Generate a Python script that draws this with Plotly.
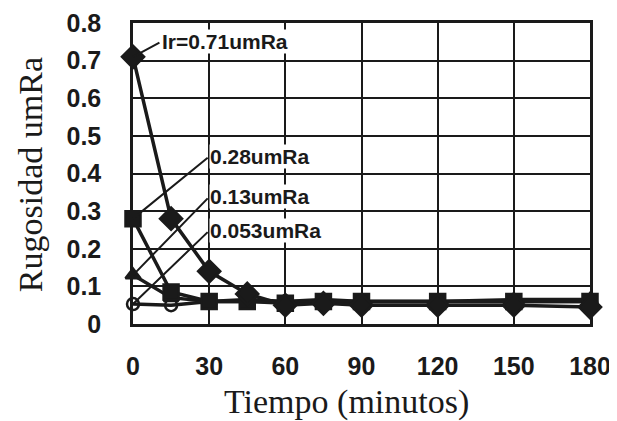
import plotly.graph_objects as go

tiempo = [0, 15, 30, 45, 60, 75, 90, 120, 150, 180]

rug_071 = [0.71, 0.28, 0.14, 0.08, 0.05, 0.055, 0.05, 0.05, 0.05, 0.045]
rug_028 = [0.28, 0.085, 0.06, 0.06, 0.055, 0.06, 0.06, 0.06, 0.06, 0.06]
rug_013 = [0.13, 0.07, 0.06, 0.065, 0.06, 0.065, 0.06, 0.06, 0.065, 0.065]
rug_0053 = [0.053, 0.05, 0.06, 0.06, 0.06, 0.06, 0.06, 0.06, 0.06, 0.06]

etiquetas = ["Ir=0.71umRa", "0.28umRa", "0.13umRa", "0.053umRa"]
valores_ini = [0.71, 0.28, 0.13, 0.053]
pos_etiqueta = [(11, 0.75), (30, 0.445), (30, 0.338), (30, 0.248)]

x_ticks = [0, 30, 60, 90, 120, 150, 180]
y_ticks = [0, 0.1, 0.2, 0.3, 0.4, 0.5, 0.6, 0.7, 0.8]

negro = "#1a1a1a"
fuenteTick = dict(family="Liberation Sans", size=25, color=negro, weight="bold")
fuenteEje = dict(family="Liberation Serif", size=34, color=negro)
fuenteEtiq = dict(family="Liberation Sans", size=21, color=negro, weight="bold")

fig = go.Figure()

series = [
    (rug_0053, "circle-open", 12),
    (rug_013, "triangle-up", 13),
    (rug_028, "square", 15),
    (rug_071, "diamond", 17),
]
for ys, simbolo, tam in series:
    fig.add_trace(go.Scatter(
        x=tiempo, y=ys, mode="lines+markers",
        line=dict(color=negro, width=3.5),
        marker=dict(symbol=simbolo, size=tam, color=negro,
                    line=dict(color=negro, width=2.5)),
        cliponaxis=False, showlegend=False))

for txt, v0, (px, py) in zip(etiquetas, valores_ini, pos_etiqueta):
    fig.add_annotation(
        x=0, y=v0, ax=px, ay=py, axref="x", ayref="y",
        showarrow=True, arrowhead=0, arrowwidth=2, arrowcolor=negro,
        standoff=0, startstandoff=0, text="")
    fig.add_annotation(
        x=px, y=py, text=txt, showarrow=False, xanchor="left",
        yanchor="middle", font=fuenteEtiq, bgcolor="white", borderpad=0)

# titulos de ejes como anotaciones
fig.add_annotation(text="Tiempo (minutos)", xref="paper", yref="paper",
                   x=0.468, y=-0.258, xanchor="center", yanchor="middle",
                   showarrow=False, font=fuenteEje)
fig.add_annotation(text="Rugosidad umRa", xref="paper", yref="paper",
                   x=-0.225, y=0.495, xanchor="center", yanchor="middle",
                   textangle=-90, showarrow=False, font=fuenteEje)

# el body del html tiene 8px de margen
fig.update_layout(
    width=609, height=413,
    margin=dict(l=125, r=27, t=15, b=97),
    paper_bgcolor="white", plot_bgcolor="white",
    xaxis=dict(
        range=[0, 180], tickvals=x_ticks, tickfont=fuenteTick,
        showgrid=True, gridcolor=negro, gridwidth=1.5,
        showline=True, linecolor=negro, linewidth=2.5, mirror=True,
        zeroline=False, ticks="", ticklabelstandoff=18, automargin=False),
    yaxis=dict(
        range=[0, 0.8], tickvals=y_ticks,
        ticktext=["0", "0.1", "0.2", "0.3", "0.4", "0.5", "0.6", "0.7", "0.8"],
        tickfont=fuenteTick,
        showgrid=True, gridcolor=negro, gridwidth=1.5,
        showline=True, linecolor=negro, linewidth=2.5, mirror=True,
        zeroline=False, ticks="", ticklabelstandoff=24, automargin=False),
)

fig.write_html("out.html")
